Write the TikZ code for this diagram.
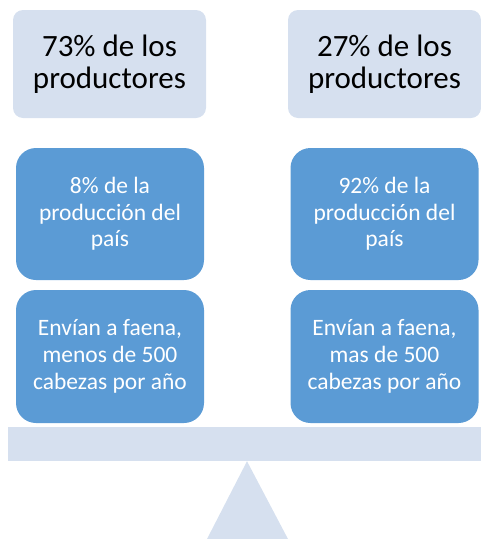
\documentclass[tikz,border=0pt]{standalone}
\usepackage{fontspec}
\setmainfont{Carlito}
\definecolor{paleblue}{HTML}{D6E0EF}
\definecolor{boxblue}{HTML}{5B9BD5}
\begin{document}
\begin{tikzpicture}[x=1pt, y=-1pt,
  group/.style={shape=rectangle, fill=paleblue, rounded corners=10pt, minimum width=193pt, minimum height=108pt, align=center, font=\fontsize{31}{31.6}\selectfont},
  fact/.style={shape=rectangle, fill=boxblue, rounded corners=20pt, minimum width=188pt, minimum height=132pt, align=center, text=white, font=\fontsize{23.5}{26.7}\selectfont}]
\useasboundingbox (0,0) rectangle (481,539);
\node[group] (g73) at (109.5,64) {73\% de los\\productores};
\node[group] (g27) at (384.5,64) {27\% de los\\productores};
\node[fact] (p8) at (110,214) {8\% de la\\producción del\\país};
\node[fact] (p92) at (384.5,214) {92\% de la\\producción del\\país};
\node[fact, minimum height=133pt] (e500) at (110,356.5) {Envían a faena,\\menos de 500\\cabezas por año};
\node[fact, minimum height=133pt] (m500) at (384.5,356.5) {Envían a faena,\\mas de 500\\cabezas por año};
\node[shape=rectangle, fill=paleblue, minimum width=473pt, minimum height=34pt] (bar) at (244.5,444) {};
\fill[paleblue] (bar.south -| 247,0) -- (207,539) -- (288,539) -- cycle;
\end{tikzpicture}
\end{document}
